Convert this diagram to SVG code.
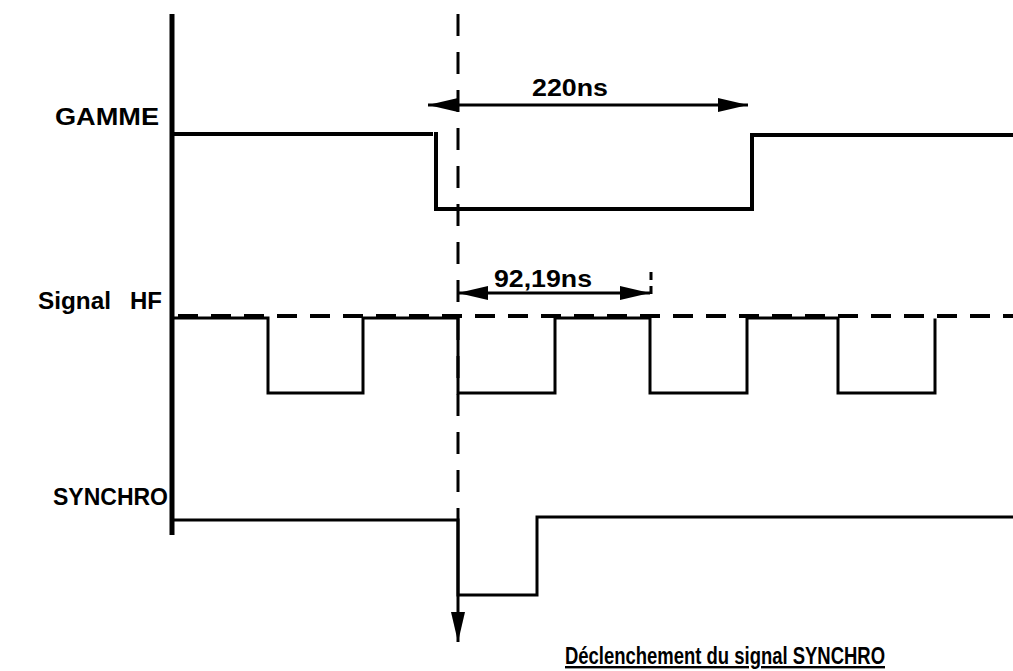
<svg xmlns="http://www.w3.org/2000/svg" width="1013" height="671" viewBox="0 0 1013 671">
<defs>
<style>
.t{font-family:"Liberation Sans",Arial,sans-serif;font-weight:bold;font-size:24px;fill:#000}
.w{fill:none;stroke:#000;stroke-linejoin:miter;stroke-linecap:square}
.dash{fill:none;stroke:#000;stroke-width:4;stroke-dasharray:20,13}
</style>
<marker id="ah" viewBox="0 0 30 14" refX="30" refY="7" markerWidth="30" markerHeight="14" markerUnits="userSpaceOnUse" orient="auto">
<path d="M0,0 L30,7 L0,14 Z" fill="#000"/>
</marker>
<marker id="ahs" viewBox="0 0 30 14" refX="30" refY="7" markerWidth="30" markerHeight="14" markerUnits="userSpaceOnUse" orient="auto-start-reverse">
<path d="M0,0 L30,7 L0,14 Z" fill="#000"/>
</marker>
</defs>
<rect width="1013" height="671" fill="#fff"/>

<g id="axis">
<line x1="172" y1="14" x2="172" y2="535" stroke="#000" stroke-width="5"/>
</g>

<g id="gamme">
<text class="t" x="55" y="125" textLength="104" lengthAdjust="spacingAndGlyphs">GAMME</text>
<path class="w" stroke-width="4" d="M172,134 H431 M436,134 V209 H752 V135 H1013"/>
</g>

<g id="signal-hf">
<text class="t" x="38" y="309" textLength="73" lengthAdjust="spacingAndGlyphs">Signal</text>
<text class="t" x="130" y="309" textLength="32" lengthAdjust="spacingAndGlyphs">HF</text>
<line class="dash" x1="178" y1="316" x2="1013" y2="316"/>
<path class="w" stroke-width="3" d="M172,318 H268 V393 H363 V318 H458 V393 H555 V318 H650 V393 H747 V318 H838 V393 H935 V320"/>
</g>

<g id="synchro">
<text class="t" x="53" y="505" textLength="115" lengthAdjust="spacingAndGlyphs">SYNCHRO</text>
<path class="w" stroke-width="3" d="M172,520 H458 V595 H537 V517 H1013"/>
</g>

<g id="trigger-label">
<text class="t" x="565" y="664" font-size="23" textLength="320" lengthAdjust="spacingAndGlyphs" text-decoration="underline">Déclenchement du signal SYNCHRO</text>
</g>

<g id="connectors">
<line x1="458" y1="14" x2="458" y2="520" stroke="#000" stroke-width="3" stroke-dasharray="22,16"/>
<line x1="458" y1="520" x2="458" y2="642" stroke="#000" stroke-width="3" marker-end="url(#ah)"/>
<line x1="428" y1="105" x2="748" y2="105" stroke="#000" stroke-width="3" marker-start="url(#ahs)" marker-end="url(#ah)"/>
<text class="t" x="532" y="96" textLength="76" lengthAdjust="spacingAndGlyphs">220ns</text>
<line x1="458" y1="293" x2="650" y2="293" stroke="#000" stroke-width="3" marker-start="url(#ahs)" marker-end="url(#ah)"/>
<line x1="651" y1="272" x2="651" y2="298" stroke="#000" stroke-width="3" stroke-dasharray="8,6"/>
<text class="t" x="494" y="287" textLength="98" lengthAdjust="spacingAndGlyphs">92,19ns</text>
</g>
</svg>
